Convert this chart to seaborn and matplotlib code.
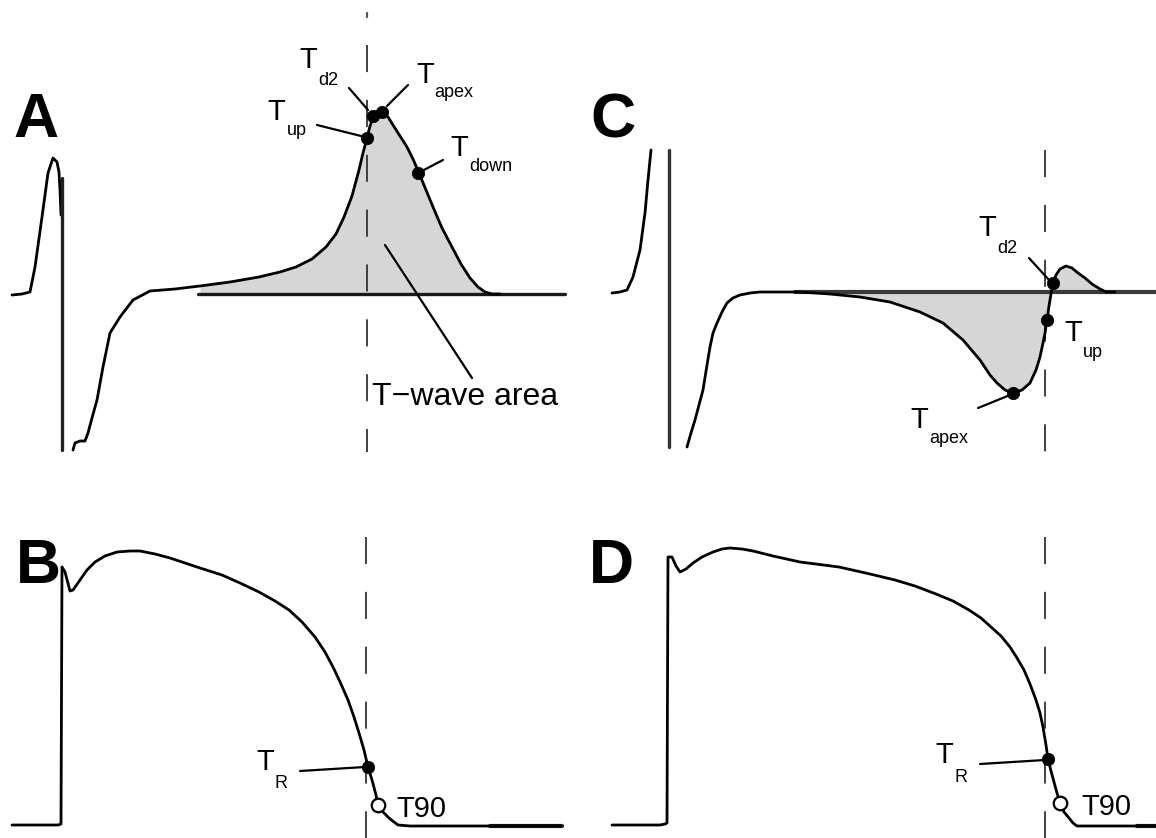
import matplotlib
matplotlib.use("Agg")
import matplotlib.pyplot as plt
import seaborn as sns

sns.set_theme(style="white")
plt.rcParams["font.family"] = ["Liberation Sans", "DejaVu Sans"]
plt.rcParams["lines.scale_dashes"] = False
plt.rcParams["text.color"] = "black"

# ---------------- data (figure-pixel coordinates of the schematic traces) ----------------
# Panel A : ECG with upright T wave
A_qrs_x = [12, 22, 30, 35, 42, 48, 53, 57, 59, 60, 61]
A_qrs_y = [295, 294, 292, 267, 217, 173, 158, 162, 172, 190, 215]
A_spike_x = [62, 62]
A_spike_y = [178, 450]
A_t_x = [73, 75, 80, 85, 88, 92, 97, 103, 110, 120, 133, 150, 175, 200, 230, 259, 280, 296, 312, 326,
         336, 344, 352, 359, 363, 367, 370, 373, 377, 382, 388, 393, 400, 407, 413, 419, 426, 433, 442, 452,
         461, 470, 478, 485, 492, 500]
A_t_y = [450, 443, 441, 441, 433, 418, 400, 367, 333, 317, 300, 291, 289, 286, 282, 277, 272, 267, 259, 247,
         234, 217, 196, 170, 153, 138, 126, 118, 113, 112, 117, 125, 136, 147, 159, 173, 190, 207, 228, 247,
         264, 278, 287, 292, 294, 294]
A_base_x = [198, 565]
A_base_y = [294, 294]
A_dash_x = [367, 367]
A_dash_y = [45, 452]
A_mark_x = [367, 373, 382, 418]
A_mark_y = [138, 116, 112, 173]

# Panel C : ECG with inverted T wave
C_qrs_x = [612, 620, 627, 633, 640, 645, 648, 651]
C_qrs_y = [293, 292, 290, 277, 250, 213, 180, 150]
C_spike_x = [669, 669]
C_spike_y = [150, 447]
C_t_x = [687, 691, 695, 699, 703, 707, 710, 713, 717, 722, 727, 733, 740, 750, 760, 780, 800, 830, 860, 890,
         920, 943, 963, 980, 990, 997, 1005, 1013, 1022, 1030, 1036, 1040, 1043, 1045, 1047, 1049, 1051, 1053,
         1056, 1060, 1066, 1072, 1078, 1085, 1092, 1100, 1106, 1115]
C_t_y = [447, 433, 420, 405, 390, 365, 347, 333, 323, 312, 303, 298, 295, 293, 292, 292, 292, 294, 297, 302,
         312, 323, 340, 360, 375, 383, 390, 393, 390, 383, 370, 357, 343, 333, 320, 306, 294, 283,
         275, 269, 266, 268, 273, 278, 284, 289, 292, 292]
C_base_x = [795, 1156]
C_base_y = [292, 292]
C_dash_x = [1045, 1045]
C_dash_y = [150, 452]
C_mark_x = [1053, 1047, 1013]
C_mark_y = [283, 320, 393]

# Panel B : action potential
B_x = [12, 58, 61, 62, 65, 70, 73, 80, 87, 95, 105, 117, 130, 140, 155, 170, 185, 200, 222, 240,
       259, 275, 289, 302, 315, 325, 333, 341, 348, 354, 359, 364, 368, 372, 376, 378, 383, 389, 394, 398,
       410, 560]
B_y = [825, 825, 824, 567, 572, 591, 590, 580, 570, 562, 556, 552, 551, 551, 554, 558, 563, 568, 575, 583,
       592, 601, 610, 622, 637, 652, 667, 684, 700, 717, 733, 750, 767, 780, 795, 805, 812, 818, 822, 825,
       826, 826]
B_end_x = [490, 562]
B_end_y = [826, 826]
B_dash_x = [366, 366]
B_dash_y = [537, 838]
B_TR = [368, 767]
B_T90 = [378, 805]

# Panel D : action potential
D_x = [612, 660, 665, 667, 668, 672, 676, 680, 686, 693, 702, 713, 722, 730, 742, 753, 773, 800, 839, 870,
       895, 915, 936, 953, 969, 981, 991, 1001, 1010, 1017, 1024, 1030, 1036, 1040, 1043, 1046, 1048, 1051,
       1054, 1057, 1060, 1064, 1069, 1073, 1077, 1156]
D_y = [825, 825, 824, 823, 557, 557, 566, 572, 569, 563, 557, 552, 549, 548, 549, 551, 556, 562, 567, 574,
       580, 586, 594, 601, 610, 618, 627, 636, 647, 658, 670, 684, 700, 713, 727, 745, 759, 771,
       782, 793, 803, 812, 818, 823, 826, 826]
D_end_x = [1137, 1156]
D_end_y = [826, 826]
D_dash_x = [1045, 1045]
D_dash_y = [537, 838]
D_TR = [1048, 759]
D_T90 = [1060, 803]

# leader lines: (x0, y0, x1, y1)
leaders = [
    (349, 88, 368, 110),     # A T_d2
    (408, 85, 387, 106),     # A T_apex
    (317, 125, 365, 137),    # A T_up
    (443, 160, 420, 172),    # A T_down
    (385, 245, 472, 378),    # A T-wave area
    (1029, 258, 1049, 280),  # C T_d2
    (978, 408, 1010, 395),   # C T_apex
    (300, 771, 365, 767),    # B T_R
    (980, 764, 1045, 760),   # D T_R
]

# labels: main text, subscript, main x, main baseline, sub x, sub baseline
label_main = ["T", "T", "T", "T", "T", "T", "T", "T", "T"]
label_sub = ["d2", "apex", "up", "down", "d2", "up", "apex", "R", "R"]
label_x = [299, 416, 267, 450, 978, 1064, 910, 256, 935]
label_y = [68, 83, 120, 156, 236, 341, 428, 770, 763]
label_sx = [318, 434, 287, 469, 997, 1083, 929, 275, 954]
label_sy = [85, 97, 135, 171, 253, 357, 443, 788, 782]

plain_text = ["T\u2212wave area", "T90", "T90"]
plain_x = [372, 396, 1081]
plain_y = [405, 817, 815]
plain_size = [23, 21, 21]

panel_letters = ["A", "B", "C", "D"]
panel_x = [13, 16, 590, 589]
panel_y = [137, 583, 137, 583]

# ---------------- drawing ----------------
fig = plt.figure(figsize=(11.56, 8.38), dpi=100)
ax = fig.add_axes([0, 0, 1, 1])

DASH = (0, (19.5, 20.0))


def trace(x, y, lw=2.0, color="black", z=3, **kw):
    sns.lineplot(x=x, y=y, sort=False, estimator=None, ax=ax, color=color,
                 lw=lw, legend=False, zorder=z, **kw)


# fills (T-wave areas)
fa = [(x, y) for x, y in zip(A_t_x, A_t_y) if 198 <= x <= 492]
ax.fill_between([p[0] for p in fa], [p[1] for p in fa], A_base_y[0],
                color="#d6d6d6", lw=0, zorder=1)
fc = [(x, y) for x, y in zip(C_t_x, C_t_y) if 795 <= x <= 1106]
ax.fill_between([p[0] for p in fc], [p[1] for p in fc], C_base_y[0],
                color="#d6d6d6", lw=0, zorder=1)

# baselines
trace(A_base_x, A_base_y, lw=2.4, color="#1a1a1a", z=2)
trace(C_base_x, C_base_y, lw=3.0, color="#3a3a3a", z=2)
trace(B_end_x, B_end_y, lw=3.0, color="#1a1a1a", z=2)
trace(D_end_x, D_end_y, lw=3.0, color="#1a1a1a", z=2)

# dashed reference lines
for dx, dy in [(A_dash_x, A_dash_y), (C_dash_x, C_dash_y), (B_dash_x, B_dash_y), (D_dash_x, D_dash_y)]:
    trace(dx, dy, lw=1.3, color="#333333", z=1.5, linestyle=DASH)
trace([367, 367], [13, 17], lw=1.6, color="#555555", z=1.5)

# traces
trace(A_qrs_x, A_qrs_y, lw=2.0)
trace(A_spike_x, A_spike_y, lw=2.4, color="#222222")
trace(A_t_x, A_t_y, lw=2.0)
trace(C_qrs_x, C_qrs_y, lw=2.0)
trace(C_spike_x, C_spike_y, lw=2.4, color="#333333")
trace(C_t_x, C_t_y, lw=2.0)
trace(B_x, B_y, lw=2.0)
trace(D_x, D_y, lw=2.0)

# leader lines
for (x0, y0, x1, y1) in leaders:
    trace([x0, x1], [y0, y1], lw=1.6, z=4)

# filled markers
fx = A_mark_x + C_mark_x + [B_TR[0], D_TR[0]]
fy = A_mark_y + C_mark_y + [B_TR[1], D_TR[1]]
sns.scatterplot(x=fx, y=fy, s=80, color="black", edgecolor="black", linewidth=0.5,
                ax=ax, zorder=6, legend=False)
# open markers (T90)
sns.scatterplot(x=[B_T90[0], D_T90[0]], y=[B_T90[1], D_T90[1]], s=95, color="white",
                edgecolor="black", linewidth=1.6, ax=ax, zorder=6, legend=False)

# labels with subscripts
for m, s, x, y, sx, sy in zip(label_main, label_sub, label_x, label_y, label_sx, label_sy):
    ax.text(x, y, m, fontsize=21, color="black", va="baseline", ha="left", zorder=7)
    ax.text(sx, sy, s, fontsize=13, color="black", va="baseline", ha="left", zorder=7)

for t, x, y, fs in zip(plain_text, plain_x, plain_y, plain_size):
    ax.text(x, y, t, fontsize=fs, color="black", va="baseline", ha="left", zorder=7)

for t, x, y in zip(panel_letters, panel_x, panel_y):
    ax.text(x, y, t, fontsize=45, fontweight="bold", color="black",
            va="baseline", ha="left", zorder=7)

ax.set_xlim(0, 1156)
ax.set_ylim(838, 0)
ax.set_axis_off()

fig.savefig("out.png", dpi=100, facecolor="white")
